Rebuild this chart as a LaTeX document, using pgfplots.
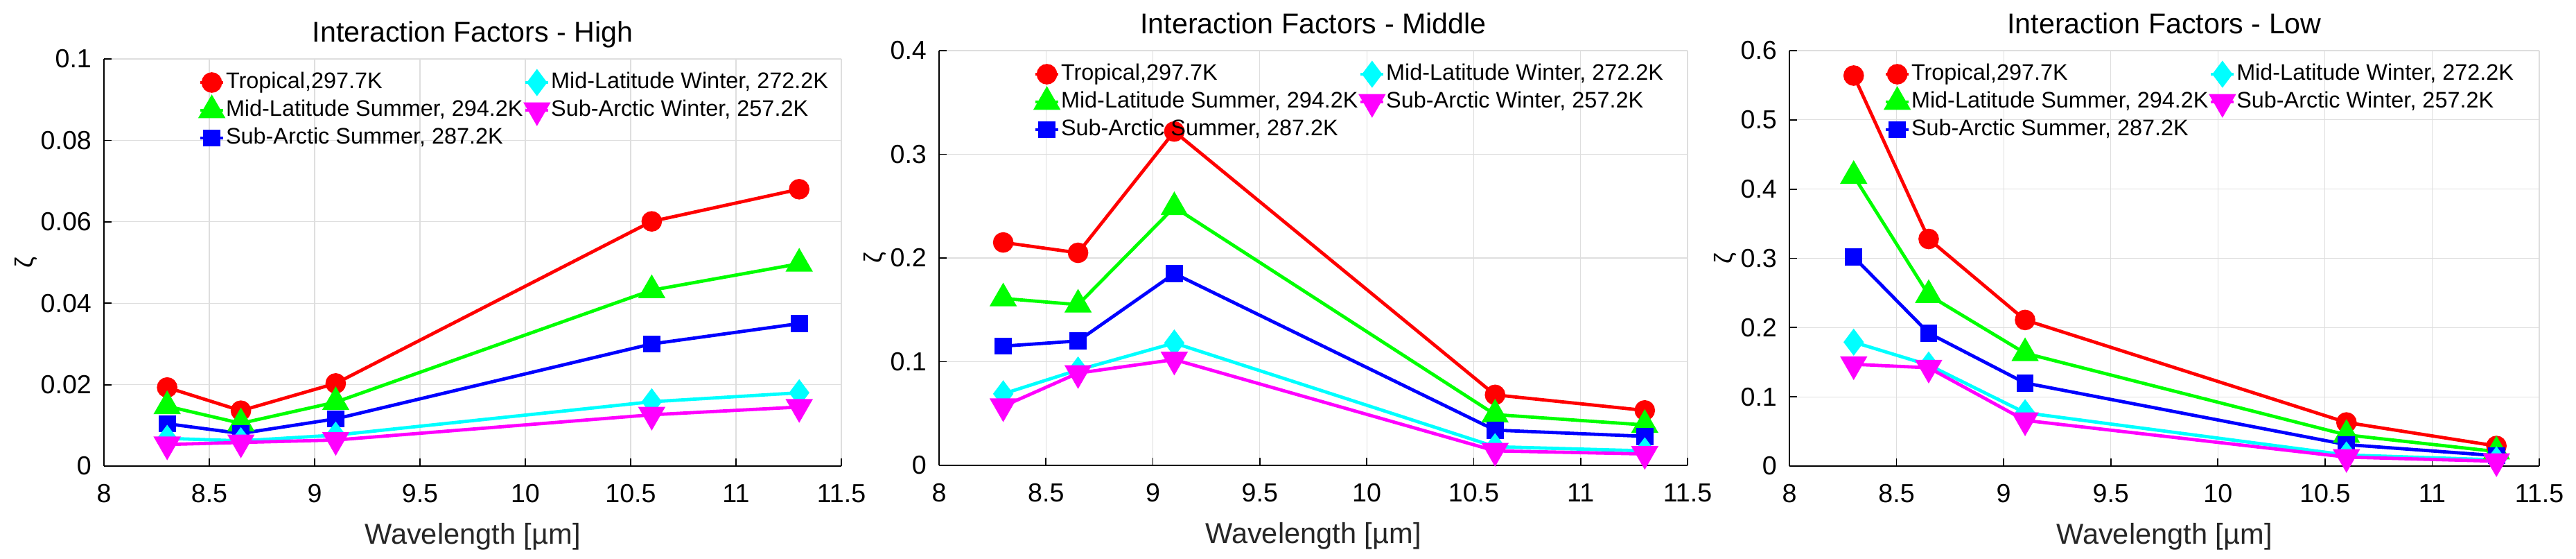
\documentclass[border=0pt]{standalone}
\usepackage{fontspec}
\setmainfont{Liberation Sans}
\usepackage{pgfplots}
\pgfplotsset{compat=1.18}
\definecolor{tick}{RGB}{38,38,38}
\definecolor{gridc}{RGB}{222,222,222}
\definecolor{pr}{RGB}{255,0,0}
\definecolor{pg}{RGB}{0,255,0}
\definecolor{pb}{RGB}{0,0,255}
\definecolor{pc}{RGB}{0,255,255}
\definecolor{pm}{RGB}{255,0,255}

% x values shared by all panels: 8.3 8.65 9.1 10.6 11.3
\pgfplotsset{
  ifpanel/.style={
    anchor=south west, scale only axis, clip=false,
    xmin=8, xmax=11.5, ymin=0,
    xtick={8,8.5,...,11.5},
    axis x line*=bottom, axis y line*=left,
    axis line style={line width=0.5pt, black},
    tick align=inside, major tick length=2.75pt,
    tick style={line width=0.45pt, black},
    grid=major, major grid style={gridc, line width=0.3pt},
    scaled y ticks=false,
    /pgf/number format/assume math mode=true,
    /pgf/number format/fixed,
    tick label style={font=\fontsize{9.4}{10}\selectfont},
    x tick label style={tick, yshift=-3pt},
    y tick label style={black, xshift=-1pt},
    every axis title shift=0pt,
    title style={font=\fontsize{10.3}{12}\selectfont, anchor=base, at={(0.5,1)}, yshift=6.2pt},
    xlabel style={font=\fontsize{10.4}{12}\selectfont, tick, yshift=-0.5pt},
    ylabel style={font=\fontsize{9}{10}\selectfont, at={(ticklabel cs:0.5,-5.5pt)}},
    xlabel={Wavelength [µm]}, ylabel={ζ},
    legend style={at={(rel axis cs:0,1)}, anchor=north west, xshift=34pt, yshift=-3.3pt,
      draw=none, fill=none, inner sep=0pt,
      font=\fontsize{8.1}{9}\selectfont,
      nodes={inner xsep=0.35pt, inner ysep=1.1pt, text height=5.9pt, text depth=1.9pt}},
    legend columns=2, legend cell align=left,
    legend image code/.code={\draw[mark repeat=2, mark phase=2]
      plot coordinates {(0pt,0pt) (4.1pt,0pt) (8.25pt,0pt)};},
    every axis plot/.append style={line width=1.2pt},
  },
  sT/.style={pr, mark=*, mark size=3.1pt},
  sMLS/.style={pg, mark=triangle*, mark size=4.5pt},
  sSAS/.style={pb, mark=square*, mark size=2.5pt},
  sMLW/.style={pc, mark=diamond*, mark size=3.9pt},
  sSAW/.style={pm, mark=triangle*, mark size=4.5pt, mark options={rotate=180}},
}

\newcommand{\ifleg}{%
  \addlegendimage{sT}\addlegendentry{Tropical,297.7K}
  \addlegendimage{sMLW}\addlegendentry{Mid-Latitude Winter, 272.2K}
  \addlegendimage{sMLS}\addlegendentry{Mid-Latitude Summer, 294.2K}
  \addlegendimage{sSAW}\addlegendentry{Sub-Arctic Winter, 257.2K}
  \addlegendimage{sSAS}\addlegendentry{Sub-Arctic Summer, 287.2K}}

\begin{document}
\begin{tikzpicture}
\useasboundingbox (0,0) rectangle (929.25pt,201.25pt);

% High
\begin{axis}[ifpanel, at={(37.5pt,33.25pt)}, width=266pt, height=146.75pt,
  ymax=0.1, ytick={0,0.02,...,0.1}, title={Interaction Factors - High}]
\ifleg
\addplot[sT, forget plot] coordinates {(8.3,0.0193) (8.65,0.0136) (9.1,0.0203) (10.6,0.0601) (11.3,0.0680)};
\addplot[sMLS, forget plot] coordinates {(8.3,0.0147) (8.65,0.0105) (9.1,0.0157) (10.6,0.0432) (11.3,0.0497)};
\addplot[sSAS, forget plot] coordinates {(8.3,0.0104) (8.65,0.0080) (9.1,0.0116) (10.6,0.0300) (11.3,0.0350)};
\addplot[sMLW, forget plot] coordinates {(8.3,0.0068) (8.65,0.0062) (9.1,0.0076) (10.6,0.0158) (11.3,0.0180)};
\addplot[sSAW, forget plot] coordinates {(8.3,0.0053) (8.65,0.0058) (9.1,0.0064) (10.6,0.0126) (11.3,0.0145)};
\end{axis}

% Middle
\begin{axis}[ifpanel, at={(338.75pt,33.5pt)}, width=270pt, height=149.5pt,
  ymax=0.4, ytick={0,0.1,...,0.4}, title={Interaction Factors - Middle}]
\ifleg
\addplot[sT, forget plot] coordinates {(8.3,0.215) (8.65,0.205) (9.1,0.322) (10.6,0.068) (11.3,0.053)};
\addplot[sMLS, forget plot] coordinates {(8.3,0.161) (8.65,0.155) (9.1,0.249) (10.6,0.049) (11.3,0.039)};
\addplot[sSAS, forget plot] coordinates {(8.3,0.115) (8.65,0.120) (9.1,0.185) (10.6,0.034) (11.3,0.028)};
\addplot[sMLW, forget plot] coordinates {(8.3,0.069) (8.65,0.092) (9.1,0.118) (10.6,0.018) (11.3,0.014)};
\addplot[sSAW, forget plot] coordinates {(8.3,0.057) (8.65,0.089) (9.1,0.102) (10.6,0.014) (11.3,0.011)};
\end{axis}

% Low
\begin{axis}[ifpanel, at={(645.5pt,33.25pt)}, width=270.5pt, height=149.75pt,
  ymax=0.6, ytick={0,0.1,...,0.6}, title={Interaction Factors - Low}]
\ifleg
\addplot[sT, forget plot] coordinates {(8.3,0.564) (8.65,0.328) (9.1,0.211) (10.6,0.063) (11.3,0.029)};
\addplot[sMLS, forget plot] coordinates {(8.3,0.419) (8.65,0.247) (9.1,0.163) (10.6,0.045) (11.3,0.021)};
\addplot[sSAS, forget plot] coordinates {(8.3,0.302) (8.65,0.192) (9.1,0.120) (10.6,0.031) (11.3,0.015)};
\addplot[sMLW, forget plot] coordinates {(8.3,0.179) (8.65,0.146) (9.1,0.077) (10.6,0.016) (11.3,0.009)};
\addplot[sSAW, forget plot] coordinates {(8.3,0.147) (8.65,0.142) (9.1,0.066) (10.6,0.013) (11.3,0.007)};
\end{axis}
\end{tikzpicture}
\end{document}
